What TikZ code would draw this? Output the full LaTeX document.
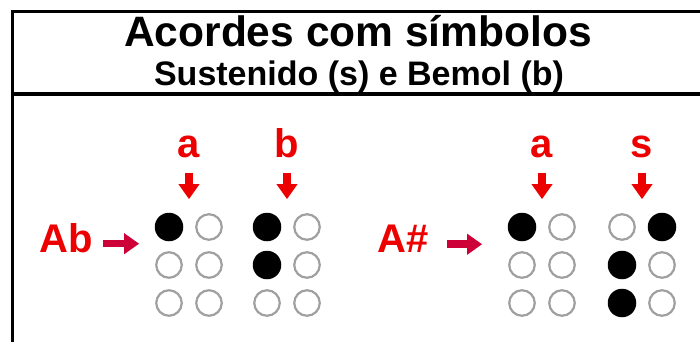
\documentclass[tikz,border=0pt]{standalone}
\usepackage{fontspec}
\setmainfont{Liberation Sans}
\usetikzlibrary{arrows.meta}
\definecolor{chordred}{RGB}{236,0,0}
\definecolor{pointred}{RGB}{205,0,55}
\definecolor{dotgray}{RGB}{160,160,160}

\begin{document}
\begin{tikzpicture}[
  x=1pt,y=-1pt,
  font=\bfseries,
  emptydot/.style={circle,draw=dotgray,line width=2.2pt,fill=white,minimum size=25.5pt,inner sep=0pt},
  fulldot/.style={circle,fill=black,minimum size=28.5pt,inner sep=0pt},
  letter/.style={text=chordred,inner sep=0pt,anchor=base,font=\bfseries\fontsize{40}{40}\selectfont},
  downarrow/.style={chordred,line width=7.5pt,-{Triangle[length=15pt,width=20pt]},shorten <=15pt,shorten >=14pt},
  rightarrow/.style={pointred,line width=7.5pt,-{Triangle[length=15pt,width=20pt]}}
]
\useasboundingbox (0,0) rectangle (700,342);

\draw[line width=3pt] (12,342) -- (12,11.5) -- (700,11.5);
\draw[line width=4pt] (10.5,94) -- (700,94);
\node[anchor=base,inner sep=0pt,font=\bfseries\fontsize{42.5}{42.5}\selectfont] (title) at (358,47) {Acordes com símbolos};
\node[anchor=base,inner sep=0pt,font=\bfseries\fontsize{34}{34}\selectfont] (subtitle) at (359,86) {Sustenido (s) e Bemol (b)};

\foreach \c/\cx in {1/169,2/267,3/522,4/622}{
  \foreach \r in {1,2,3}{
    \foreach \k in {1,2}{
      \pgfmathsetmacro{\x}{\cx+40*(\k-1)}
      \pgfmathsetmacro{\y}{227+38*(\r-1)}
      \node[emptydot] (d-\c-\r-\k) at (\x,\y) {};
    }
  }
}
\foreach \d in {1-1-1,2-1-1,2-2-1,3-1-1,4-1-2,4-2-1,4-3-1}{
  \node[fulldot] at (d-\d) {};
}

\node[letter] (ab) at (66,252) {Ab};
\node[letter] (asharp) at (403,252) {A\#};
\node[letter] (la) at (189,157) {a};
\node[letter] (lb) at (287,157) {b};
\node[letter] (la2) at (542,157) {a};
\node[letter] (ls) at (642,157) {s};

\draw[downarrow] (la.south) -- (la.south |- d-1-1-1.north);
\draw[downarrow] (lb.south) -- (lb.south |- d-2-1-1.north);
\draw[downarrow] (la2.south) -- (la2.south |- d-3-1-1.north);
\draw[downarrow] (ls.south) -- (ls.south |- d-4-1-1.north);
\draw[rightarrow,shorten <=10pt,shorten >=16pt] ([yshift=-6pt]ab.east) -- ([yshift=-6pt]ab.east -| d-1-1-1.west);
\draw[rightarrow,shorten <=18pt,shorten >=26pt] ([yshift=-6pt]asharp.east) -- ([yshift=-6pt]asharp.east -| d-3-1-1.west);
\end{tikzpicture}
\end{document}
